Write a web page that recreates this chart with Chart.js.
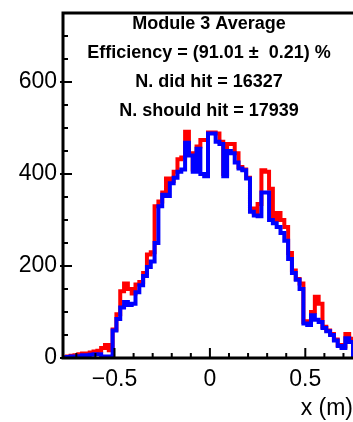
<!DOCTYPE html>
<html>
<head>
<meta charset="utf-8">
<script src="https://cdn.jsdelivr.net/npm/chart.js@4.4.0/dist/chart.umd.min.js"></script>
<style>
  html, body { margin: 0; padding: 0; background: #fff; }
</style>
</head>
<body>
<canvas id="chart" width="353" height="422"></canvas>
<script>
// histogram binning (x in metres)
const binStart = -0.77;
const binWidth = 0.02;

// entries per bin, blue = did hit, red = should hit
const didHit = [
  1, 2, 3, 3, 4, 6, 6, 7, 8, 8,
  3, 2, 3, 60, 85, 110, 122, 115, 118, 143,
  158, 178, 198, 210, 250, 330, 355, 352, 380, 392,
  405, 410, 468, 440, 405, 455, 400, 395, 488, 488,
  470, 465, 395, 450, 445, 425, 412, 408, 390, 318,
  310, 308, 360, 360, 300, 293, 285, 272, 255, 215,
  185, 170, 150, 75, 72, 93, 83, 78, 65, 58,
  50, 38, 26, 22, 43, 35
];
const shouldHit = [
  1, 3, 5, 6, 8, 10, 10, 12, 14, 16,
  22, 28, 17, 62, 95, 145, 162, 150, 140, 160,
  165, 185, 225, 230, 330, 340, 360, 390, 385, 405,
  432, 436, 492, 445, 410, 460, 474, 474, 490, 490,
  488, 470, 400, 465, 465, 445, 415, 410, 392, 325,
  315, 335, 408, 405, 368, 300, 315, 300, 285, 228,
  190, 172, 162, 78, 80, 100, 133, 118, 68, 60,
  52, 40, 28, 25, 52, 42
];

const xTicks = [-0.5, 0, 0.5];
const yTicks = [0, 200, 400, 600];
const infoLines = [
  "Module 3 Average",
  "Efficiency = (91.01 \u00b1  0.21) %",
  "N. did hit = 16327",
  "N. should hit = 17939"
];

const FONT = "'Liberation Sans', Arial, Helvetica, sans-serif";

// bin edges -> step points (horizontal at bin value, drop at the last edge)
function histPoints(values) {
  const pts = values.map((v, i) => ({ x: binStart + i * binWidth, y: v }));
  const end = binStart + values.length * binWidth;
  pts.push({ x: end, y: values[values.length - 1] });
  pts.push({ x: end, y: 0 });
  return pts;
}

function fmt(v) {
  if (v === 0) return "0";
  return (v < 0 ? "\u2212" : "") + String(Math.abs(v));
}

function noEdgePadding(s) {
  s.paddingTop = 0;
  s.paddingBottom = 0;
  s.paddingLeft = 0;
  s.paddingRight = 0;
}

// frame, inward ticks and the info text (ROOT style)
const rootFrame = {
  id: "rootFrame",
  afterDatasetsDraw(chart) {
    const { ctx, chartArea: a } = chart;
    const xs = chart.scales.x, ys = chart.scales.y;
    ctx.save();
    ctx.strokeStyle = "#000";
    ctx.lineCap = "butt";

    ctx.lineWidth = 2;
    ctx.beginPath();
    for (let v = 0; v <= 750; v += 50) {
      const py = ys.getPixelForValue(v);
      const major = yTicks.includes(v);
      ctx.moveTo(major ? a.left - 3 : a.left, py);
      ctx.lineTo(a.left + (major ? 9 : 5), py);
    }
    for (let k = -7; k <= 7; k++) {
      const v = k / 10;
      const px = xs.getPixelForValue(v);
      const major = k % 5 === 0;
      ctx.moveTo(px, a.bottom);
      ctx.lineTo(px, a.bottom - (major ? 10 : 5));
    }
    ctx.stroke();

    ctx.lineWidth = 3;
    ctx.beginPath();
    ctx.moveTo(a.right + 2, a.top);
    ctx.lineTo(a.left, a.top);
    ctx.lineTo(a.left, a.bottom);
    ctx.lineTo(a.right + 2, a.bottom);
    ctx.stroke();
    ctx.restore();
  },
  afterDraw(chart) {
    const { ctx } = chart;
    ctx.save();
    ctx.fillStyle = "#000";
    ctx.font = "bold 18px " + FONT;
    ctx.textAlign = "center";
    ctx.textBaseline = "middle";
    const rows = [24, 53, 82, 111];
    infoLines.forEach((t, i) => ctx.fillText(t, 209, rows[i]));
    ctx.restore();
  }
};

new Chart(document.getElementById("chart"), {
  type: "line",
  data: {
    datasets: [
      {
        label: "did hit",
        data: histPoints(didHit),
        borderColor: "#0000ff",
        borderWidth: 4,
        stepped: true,
        pointRadius: 0,
        fill: false,
        order: 0
      },
      {
        label: "should hit",
        data: histPoints(shouldHit),
        borderColor: "#ff0000",
        borderWidth: 4,
        stepped: true,
        pointRadius: 0,
        fill: false,
        order: 1
      }
    ]
  },
  options: {
    responsive: false,
    animation: false,
    devicePixelRatio: 1,
    layout: { padding: { top: 13, right: 0, left: 0, bottom: 0 } },
    plugins: { legend: { display: false }, tooltip: { enabled: false } },
    scales: {
      x: {
        type: "linear",
        min: -0.77,
        max: 0.75,
        grid: { display: false, drawTicks: false },
        border: { display: false },
        afterBuildTicks: s => { s.ticks = xTicks.map(v => ({ value: v })); },
        afterFit: s => { s.height = 64; noEdgePadding(s); },
        ticks: {
          color: "#000",
          font: { family: FONT, size: 23 },
          padding: 8,
          maxRotation: 0,
          autoSkip: false,
          callback: v => fmt(v)
        },
        title: {
          display: true,
          text: "x (m)",
          align: "end",
          color: "#000",
          font: { family: FONT, size: 23 },
          padding: 0
        }
      },
      y: {
        min: 0,
        max: 750,
        grid: { display: false, drawTicks: false },
        border: { display: false },
        afterBuildTicks: s => { s.ticks = yTicks.map(v => ({ value: v })); },
        afterFit: s => { s.width = 63; noEdgePadding(s); },
        ticks: {
          color: "#000",
          font: { family: FONT, size: 23 },
          padding: 6,
          callback: v => fmt(v)
        }
      }
    }
  },
  plugins: [rootFrame]
});
</script>
</body>
</html>
